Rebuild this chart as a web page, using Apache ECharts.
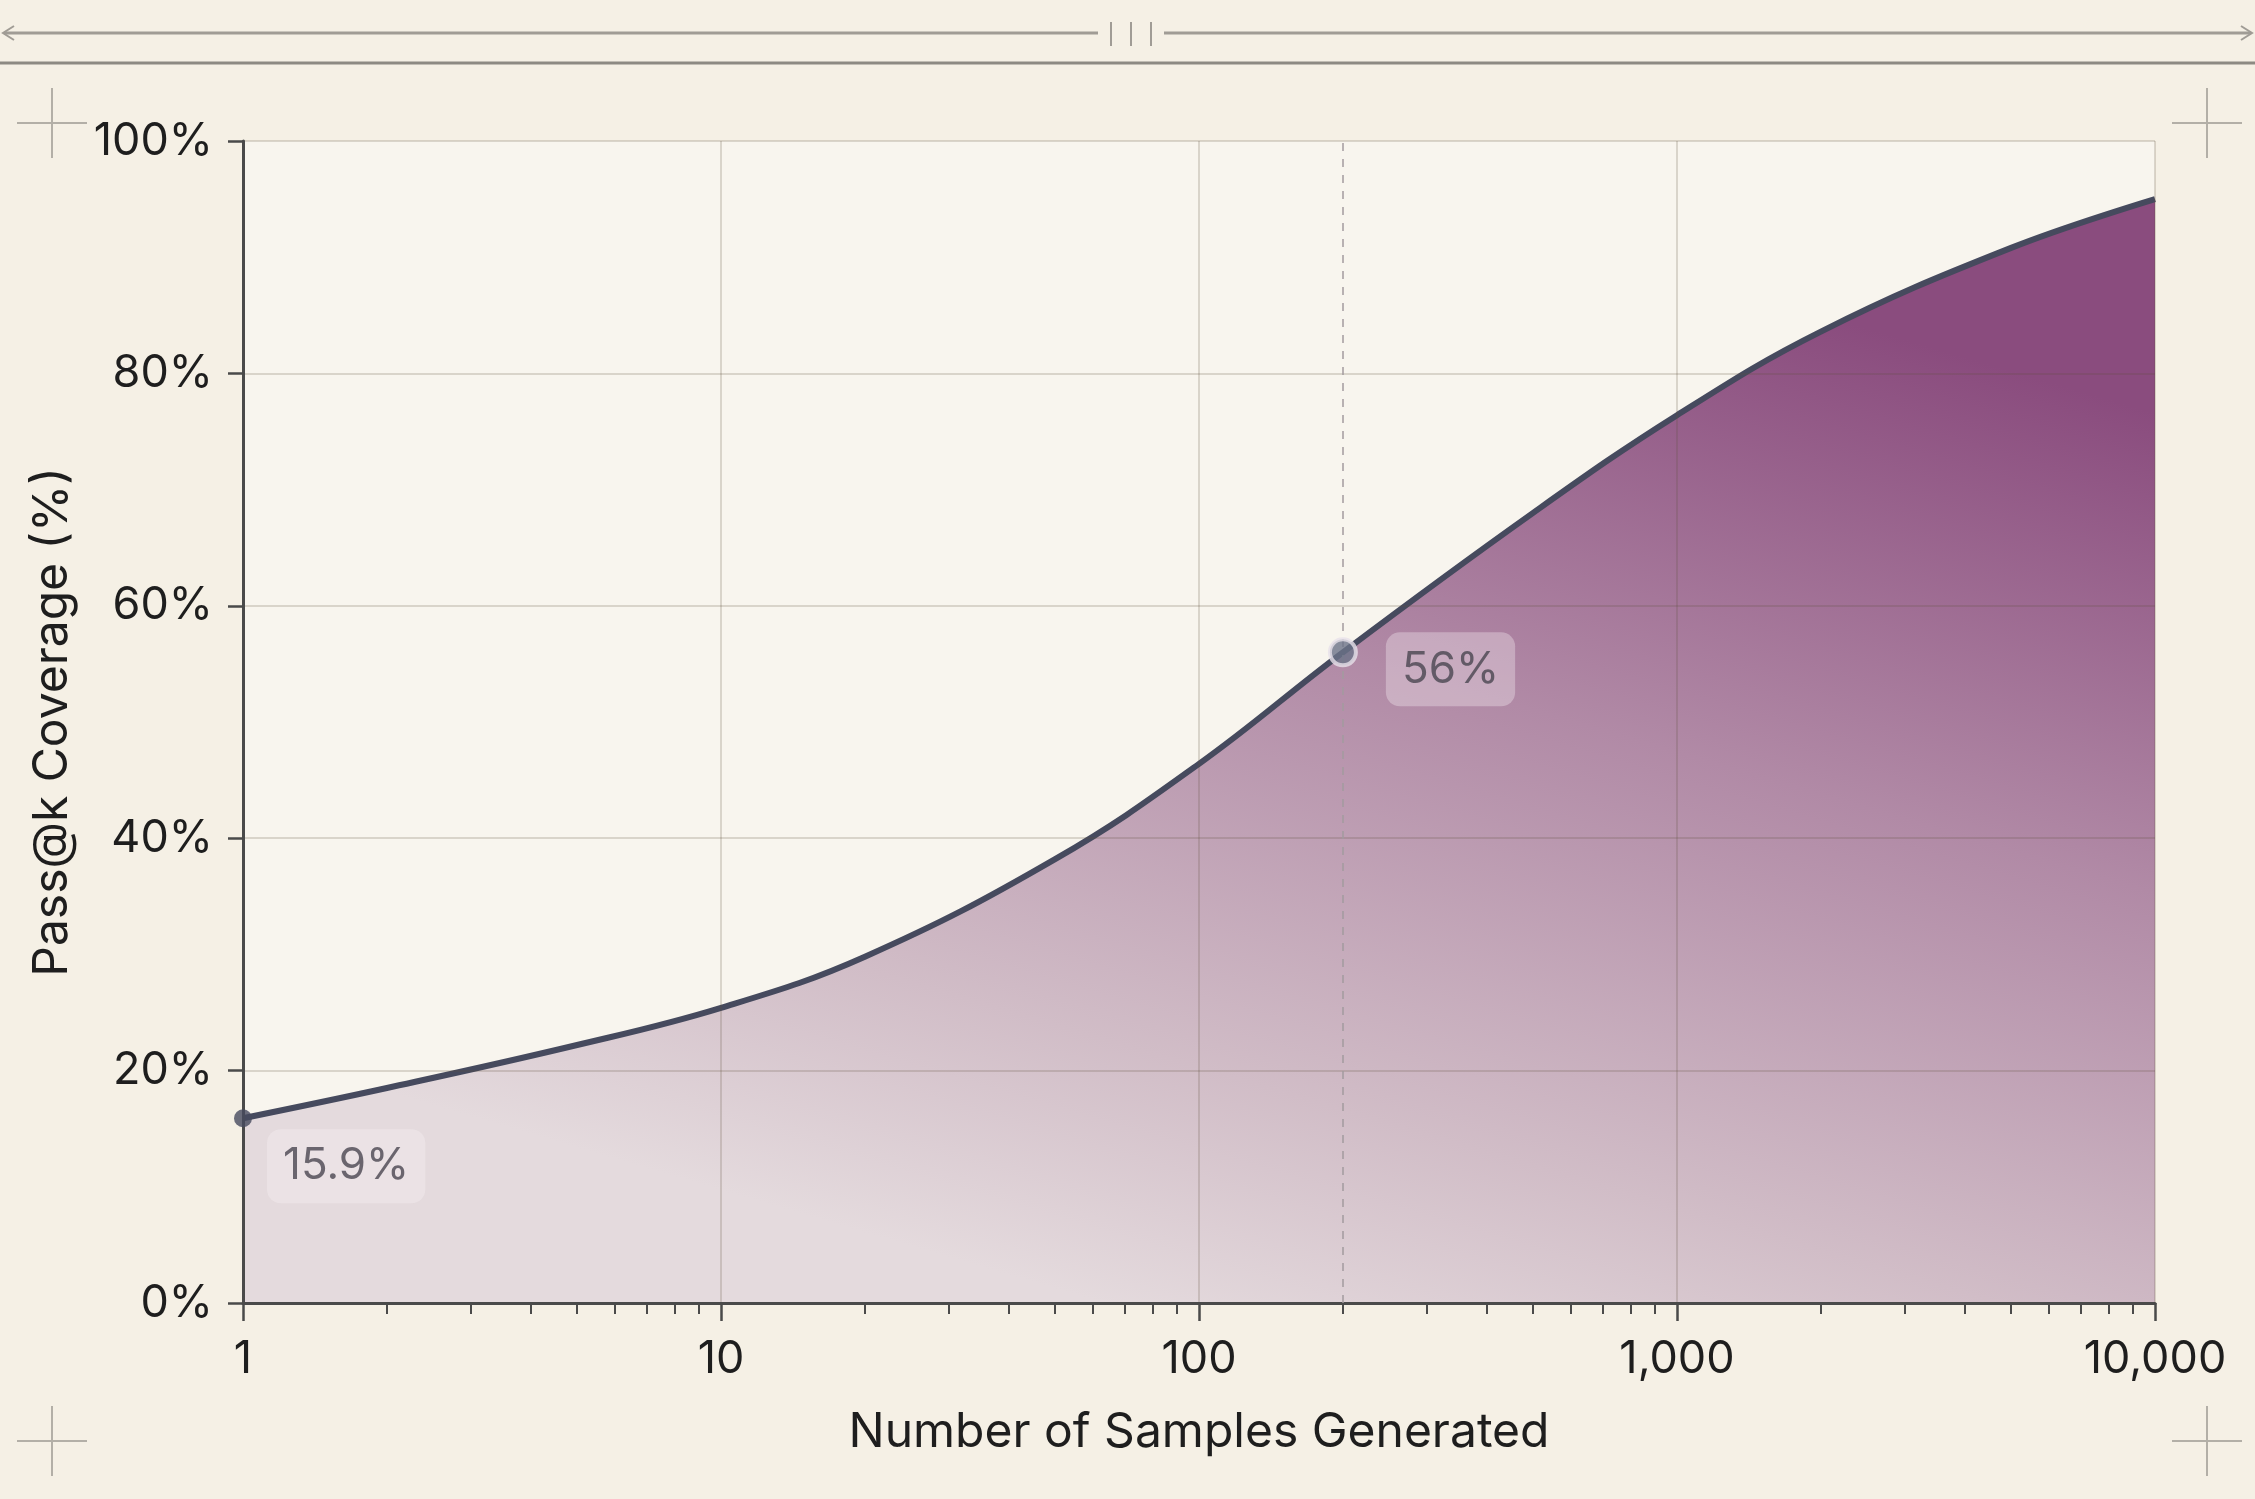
<!DOCTYPE html>
<html>
<head>
<meta charset="utf-8">
<title>Pass@k Coverage</title>
<script src="https://cdn.jsdelivr.net/npm/echarts@6/dist/echarts.min.js"></script>
<style>
  html, body { margin: 0; padding: 0; background: #f5f0e5; }
  #chart { width: 2255px; height: 1499px; }
</style>
</head>
<body>
<div id="chart"></div>
<script>
// number of samples generated (k) and pass@k coverage (%)
const samples = [1, 2, 5, 10, 20, 50, 100, 200, 500, 1000, 2000, 5000, 10000];
const coverage = [15.9, 18.5, 22.2, 25.4, 29.8, 38.2, 46.4, 56.0, 68.0, 76.4, 83.6, 90.8, 95.0];

// points that get a callout label
const calloutK = [1, 200];

// log minor ticks (2..9 of each decade)
const minorTicks = [
  2, 3, 4, 5, 6, 7, 8, 9,
  20, 30, 40, 50, 60, 70, 80, 90,
  200, 300, 400, 500, 600, 700, 800, 900,
  2000, 3000, 4000, 5000, 6000, 7000, 8000, 9000
];

const font = 'Inter, "Noto Sans", sans-serif';
const ink = '#1e1e1e';
const axisInk = '#4a4a4a';
const gridInk = 'rgba(95,80,60,0.2)';
const curveInk = '#464a5e';

var chartDom = document.getElementById('chart');
var mychart = echarts.init(chartDom);

const lineData = samples.map((k, i) => [k, coverage[i]]);

const calloutStyles = [
  { symbolSize: 18, itemStyle: { color: curveInk }, label: { position: [33, 20] } },
  { symbolSize: 26, itemStyle: { color: '#6b7388', borderColor: '#e7e1ea', borderWidth: 4 }, label: { position: [58, -5] } }
];
const calloutData = calloutK.map((k, j) => {
  const i = samples.indexOf(k);
  return Object.assign({ value: [samples[i], coverage[i]] }, calloutStyles[j]);
});

// decorative frame bits
function cross(cx, cy) {
  return [
    { type: 'line', shape: { x1: cx - 35, y1: cy, x2: cx + 35, y2: cy }, style: { stroke: '#b3afa7', lineWidth: 2 } },
    { type: 'line', shape: { x1: cx, y1: cy - 35, x2: cx, y2: cy + 35 }, style: { stroke: '#b3afa7', lineWidth: 2 } }
  ];
}
const deco = [
  { type: 'line', shape: { x1: 4, y1: 33, x2: 1098, y2: 33 }, style: { stroke: '#a09c95', lineWidth: 3 } },
  { type: 'line', shape: { x1: 1164, y1: 33, x2: 2251, y2: 33 }, style: { stroke: '#a09c95', lineWidth: 3 } },
  { type: 'polyline', shape: { points: [[14, 26], [3, 33], [14, 40]] }, style: { stroke: '#a09c95', lineWidth: 2, fill: null } },
  { type: 'polyline', shape: { points: [[2241, 26], [2252, 33], [2241, 40]] }, style: { stroke: '#a09c95', lineWidth: 2, fill: null } },
  { type: 'line', shape: { x1: 1111, y1: 22, x2: 1111, y2: 46 }, style: { stroke: '#a09c95', lineWidth: 2 } },
  { type: 'line', shape: { x1: 1131, y1: 22, x2: 1131, y2: 46 }, style: { stroke: '#a09c95', lineWidth: 2 } },
  { type: 'line', shape: { x1: 1151, y1: 22, x2: 1151, y2: 46 }, style: { stroke: '#a09c95', lineWidth: 2 } },
  { type: 'line', shape: { x1: 0, y1: 63, x2: 2255, y2: 63 }, style: { stroke: '#8d8a83', lineWidth: 3 } }
].concat(cross(52, 123), cross(2207, 123), cross(52, 1441), cross(2207, 1441));

var option = {
  backgroundColor: '#f5f0e5',
  textStyle: { fontFamily: font },
  graphic: { elements: deco },
  grid: {
    left: 243, right: 100, top: 141, bottom: 196,
    show: true, backgroundColor: '#f8f5ee', borderWidth: 0
  },
  xAxis: [
    {
      type: 'log', logBase: 10, min: 1, max: 10000, position: 'bottom', z: 3,
      name: 'Number of Samples Generated',
      nameLocation: 'middle', nameGap: 106,
      nameTextStyle: { fontSize: 48, color: ink, fontFamily: font },
      axisLine: { show: true, lineStyle: { color: axisInk, width: 3 } },
      axisTick: { show: true, length: 18, lineStyle: { color: axisInk, width: 2.5 } },
      minorTick: { show: false },
      axisLabel: {
        fontSize: 45, color: ink, margin: 34, fontFamily: font,
        formatter: (v) => Math.round(v).toLocaleString('en-US')
      },
      splitLine: { show: true, lineStyle: { color: gridInk, width: 2 } }
    },
    {
      type: 'log', logBase: 10, min: 1, max: 10000, position: 'bottom', z: 3,
      axisLine: { show: false },
      axisLabel: { show: false },
      splitLine: { show: false },
      axisTick: { show: true, length: 11, customValues: minorTicks, lineStyle: { color: axisInk, width: 2 } }
    }
  ],
  yAxis: {
    type: 'value', min: 0, max: 100, interval: 20, z: 3,
    name: 'Pass@k Coverage (%)',
    nameLocation: 'middle', nameGap: 166,
    nameTextStyle: { fontSize: 48, color: ink, fontFamily: font },
    axisLine: { show: true, lineStyle: { color: axisInk, width: 3 } },
    axisTick: { show: true, length: 15, lineStyle: { color: axisInk, width: 2.5 } },
    axisLabel: { fontSize: 45, color: ink, margin: 30, fontFamily: font, formatter: '{value}%' },
    splitLine: { show: true, lineStyle: { color: gridInk, width: 2 } }
  },
  series: [
    {
      type: 'line',
      xAxisIndex: 0,
      data: lineData,
      smooth: 0.4,
      symbol: 'none',
      z: 2,
      lineStyle: { color: curveInk, width: 6 },
      areaStyle: {
        opacity: 1,
        color: new echarts.graphic.LinearGradient(0.62, 0, 0.45, 1, [
          { offset: 0, color: '#8a4c7e' },
          { offset: 0.4, color: '#b18aa6' },
          { offset: 0.78, color: '#d1bdc7' },
          { offset: 1, color: '#e4dadd' }
        ])
      },
      markLine: {
        silent: true,
        symbol: 'none',
        label: { show: false },
        lineStyle: { type: [8, 8], color: '#a39b9f', width: 1.5 },
        data: [{ xAxis: calloutK[1] }]
      }
    },
    {
      type: 'scatter',
      xAxisIndex: 0,
      z: 10,
      data: calloutData,
      label: {
        show: true,
        formatter: (p) => (+p.value[1].toFixed(1)) + '%',
        fontSize: 44,
        fontFamily: font,
        color: '#4a4650',
        lineHeight: 48,
        padding: [13, 16],
        borderRadius: 14,
        backgroundColor: 'rgba(250,244,247,0.42)'
      }
    }
  ]
};

mychart.setOption(option);
</script>
</body>
</html>
